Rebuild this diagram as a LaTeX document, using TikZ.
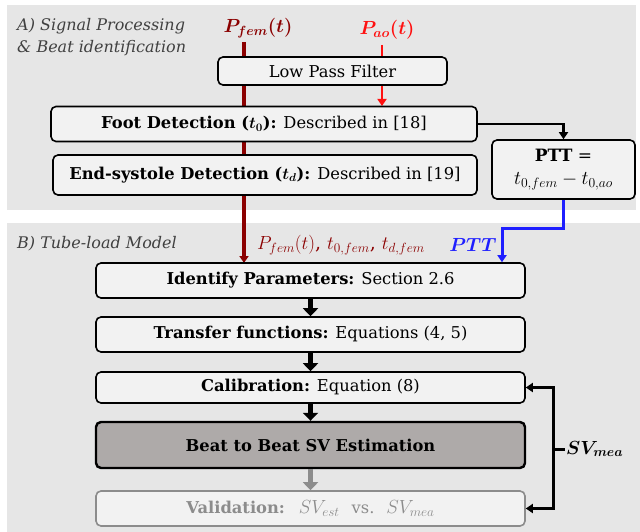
\documentclass[tikz,border=0pt]{standalone}
\usepackage{fix-cm}
\usepackage{bm}
\usepackage{fontspec}
\setmainfont{DejaVu Serif}
\usetikzlibrary{arrows.meta}
\definecolor{panel}{HTML}{E6E6E6}
\definecolor{boxfill}{HTML}{F2F2F2}
\definecolor{femred}{HTML}{8B0000}
\definecolor{aored}{HTML}{FF1010}
\definecolor{pttblue}{HTML}{1F1FFF}
\definecolor{beatfill}{HTML}{AEAAA9}
\definecolor{valgray}{HTML}{8C8C8C}
\tikzset{
  box/.style={draw=black, line width=1.6pt, rounded corners=5pt, fill=boxfill,
    inner sep=0pt, minimum width=429pt, minimum height=35pt, align=center,
    font=\fontsize{16.3}{19}\selectfont},
  lab/.style={font=\fontsize{16}{22}\selectfont\itshape, align=left, inner sep=0pt},
  biglab/.style={font=\fontsize{19}{22}\selectfont, inner sep=0pt},
  midlab/.style={font=\fontsize{19}{22}\selectfont, inner sep=0pt},
  flow/.style={line width=5pt, -{Triangle[width=15pt,length=8pt]}},
  tip/.style={-{Triangle[width=9pt,length=7pt]}},
}
\begin{document}
\begin{tikzpicture}[x=1pt,y=-1pt]
\useasboundingbox (0,0) rectangle (640,532);
% panels
\fill[panel] (7,5) rectangle (636,210);
\fill[panel] (7,223) rectangle (640,532);
% section labels
\node[lab, anchor=north west, text=black!75] (secA) at (17,18) {A) Signal Processing\\\& Beat identification};
\node[lab, anchor=west, text=black!75] (secB) at (17,244) {B) Tube-load Model};
% input labels
\node[biglab, text=femred] (pflab) at (258,28) {$\bm{P_{fem}(t)}$};
\node[biglab, text=aored] (palab) at (387,30) {$\bm{P_{ao}(t)}$};
\coordinate (pfs) at (244,42);
\coordinate (pas) at (382,45);
\coordinate (idptop) at (244,263);
% P_fem line (behind boxes)
\draw[femred, line width=3.5pt, tip] (pfs) -- (idptop);
\draw[aored, line width=2.5pt, tip] (pas) -- (382,106);
% boxes
\node[box, minimum width=229pt, minimum height=28pt] (lpf) at (332.5,71) {Low Pass Filter};
\node[box, minimum width=426pt] (foot) at (264,124) {\textbf{Foot Detection ($\bm{t_0}$):} Described in [18]};
\node[box, minimum width=424pt, minimum height=40pt] (endsys) at (265,175) {\textbf{End-systole Detection ($\bm{t_d}$):} Described in [19]};
\node[box, minimum width=143pt, minimum height=59pt, font=\fontsize{17}{20}\selectfont] (ptt) at (563.5,169.5) {\textbf{PTT} =\\[3pt] \fontsize{19.5}{22}\selectfont$t_{0,fem}-t_{0,ao}$};
\node[box] (idp) at (310.5,280.5) {\textbf{Identify Parameters:} Section 2.6};
\node[box] (tf) at (310.5,334.5) {\textbf{Transfer functions:} Equations (4, 5)};
\node[box, minimum height=31pt] (cal) at (310.5,387.5) {\textbf{Calibration:} Equation (8)};
\node[box, fill=beatfill, line width=2.4pt, minimum height=46pt] (beat) at (310.5,445) {\textbf{Beat to Beat SV Estimation}};
\node[box, draw=valgray, text=valgray] (val) at (310.5,508.5) {\textbf{Validation:}\hspace{14pt}{\fontsize{19}{22}\selectfont$SV_{est}$}\hspace{12pt}vs.\hspace{12pt}{\fontsize{19}{22}\selectfont$SV_{mea}$}};
% connectors
\draw[black, line width=2.5pt, tip] (foot.east) -| (ptt.north);
\coordinate (bl1) at (502,228);
\draw[pttblue, line width=3pt, tip] (ptt.south) |- (bl1) -- (bl1 |- idp.north);
\node[midlab, text=femred, anchor=west] (femlab) at (257,245) {$P_{fem}(t)$, $t_{0,fem}$, $t_{d,fem}$};
\node[midlab, text=pttblue] (pttlab) at (473,245) {$\bm{PTT}$};
\draw[flow] (idp.south) -- (tf.north);
\draw[flow] (tf.south) -- (cal.north);
\draw[flow] (cal.south) -- (beat.north);
\draw[flow, valgray] (beat.south) -- (val.north);
% SV_mea feedback
\coordinate (fb) at (553,449);
\draw[line width=3pt, tip] (fb) |- (cal.east);
\draw[line width=3pt, tip] (fb) |- (val.east);
\draw[line width=3pt] (fb) -- ++(12,0) coordinate (fbe);
\node[biglab, anchor=west, inner sep=1pt] (svlab) at (fbe) {$\bm{SV_{mea}}$};
\end{tikzpicture}
\end{document}
